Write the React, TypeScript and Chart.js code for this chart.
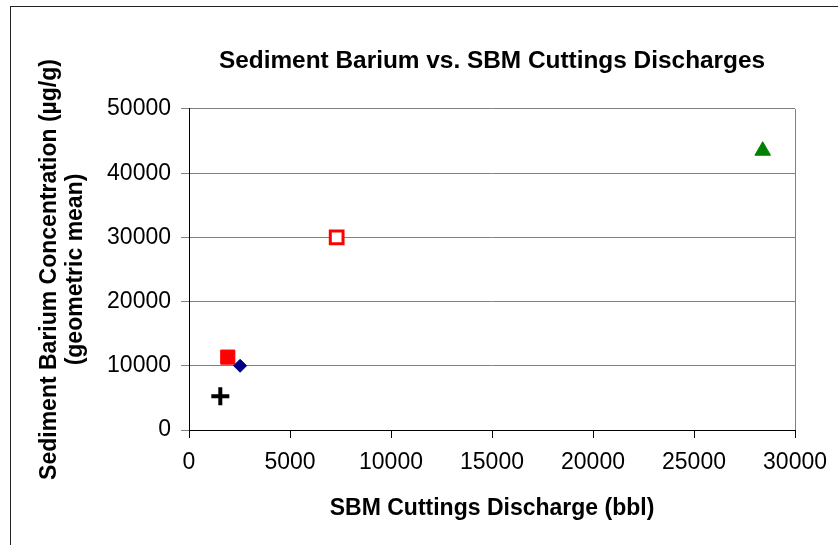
import React, { useEffect, useRef } from "react";
import { Chart, registerables } from "chart.js";

Chart.register(...registerables);

// ---- data ----
const seriesNames = ["Site A", "Site B", "Site C", "Site D", "Site E"];
const xValues = [1550, 1920, 2530, 7310, 28400]; // SBM cuttings discharge (bbl)
const yValues = [5250, 11350, 10000, 30000, 43500]; // sediment barium (µg/g)
const xTicks = [0, 5000, 10000, 15000, 20000, 25000, 30000];
const yTicks = [0, 10000, 20000, 30000, 40000, 50000];

const titleText = "Sediment Barium vs. SBM Cuttings Discharges";
const xTitle = "SBM Cuttings Discharge (bbl)";
const yTitle = ["Sediment Barium Concentration (µg/g)", "(geometric mean)"];

const FONT = "'Liberation Sans', Arial, Helvetica, sans-serif";

// marker styles per series (index matches the data arrays)
const markerStyles = [
  { pointStyle: "cross", radius: 9, bg: "#000000", border: "#000000", bw: 4, order: 3 },
  { pointStyle: "rect", radius: 10, bg: "#ff0000", border: "#ff0000", bw: 1, order: 2 },
  { pointStyle: "rectRot", radius: 6.5, bg: "#000080", border: "#000080", bw: 1, order: 1 },
  { pointStyle: "rect", radius: 9, bg: "#ffffff", border: "#ff0000", bw: 3, order: 4 },
  { pointStyle: "triangle", radius: 9, bg: "#008000", border: "#008000", bw: 1, order: 5 },
];

export default function App() {
  const ref = useRef<HTMLCanvasElement>(null);

  useEffect(() => {
    if (!ref.current) return;
    const datasets = seriesNames.map((name, i) => ({
      label: name,
      data: [{ x: xValues[i], y: yValues[i] }],
      pointStyle: markerStyles[i].pointStyle as any,
      pointRadius: markerStyles[i].radius,
      pointBackgroundColor: markerStyles[i].bg,
      pointBorderColor: markerStyles[i].border,
      pointBorderWidth: markerStyles[i].bw,
      showLine: false,
      order: markerStyles[i].order,
    }));

    const chart = new Chart(ref.current, {
      type: "scatter",
      data: { datasets },
      options: {
        animation: false,
        responsive: false,
        maintainAspectRatio: false,
        layout: { padding: { left: 0, right: 40, top: 47, bottom: 0 } },
        plugins: {
          legend: { display: false },
          tooltip: { enabled: false },
          title: {
            display: true,
            fullSize: false,
            text: titleText,
            color: "#000",
            font: { family: FONT, size: 24.4, weight: "bold", lineHeight: 1.2 },
            padding: { top: 0, bottom: 32.7 },
          },
        },
        scales: {
          x: {
            type: "linear",
            min: xTicks[0],
            max: xTicks[xTicks.length - 1],
            afterBuildTicks: (s: any) => {
              s.ticks = xTicks.map((v) => ({ value: v }));
            },
            afterFit: (s: any) => {
              s.height = 115;
            },
            ticks: {
              color: "#000",
              font: { family: FONT, size: 23 },
              padding: 11,
              maxRotation: 0,
              autoSkip: false,
              callback: (v: any) => String(v),
            },
            grid: {
              drawOnChartArea: true,
              drawTicks: true,
              tickLength: 8,
              color: (ctx: any) =>
                ctx.tick && ctx.tick.value === xTicks[xTicks.length - 1] ? "#808080" : "rgba(0,0,0,0)",
              tickColor: "#000",
              lineWidth: 1,
            },
            border: { display: true, color: "#000", width: 1 },
            title: {
              display: true,
              text: xTitle,
              color: "#000",
              font: { family: FONT, size: 23, weight: "bold", lineHeight: 1.2 },
              padding: { top: 0, bottom: 23 },
            },
          },
          y: {
            type: "linear",
            min: yTicks[0],
            max: yTicks[yTicks.length - 1],
            afterBuildTicks: (s: any) => {
              s.ticks = yTicks.map((v) => ({ value: v }));
            },
            afterFit: (s: any) => {
              s.width = 189;
            },
            ticks: {
              color: "#000",
              font: { family: FONT, size: 23 },
              padding: 10,
              autoSkip: false,
              callback: (v: any) => String(v),
            },
            grid: {
              drawTicks: true,
              tickLength: 8,
              color: (ctx: any) => (ctx.tick && ctx.tick.value === 0 ? "#000" : "#808080"),
              tickColor: "#808080",
              lineWidth: 1,
            },
            border: { display: true, color: "#000", width: 1 },
            title: {
              display: true,
              text: yTitle,
              color: "#000",
              font: { family: FONT, size: 23, weight: "bold", lineHeight: 1.15 },
              padding: { top: 36, bottom: 0 },
            },
          },
        },
      },
    });
    return () => chart.destroy();
  }, []);

  return (
    <div
      style={{
        position: "absolute",
        left: 0,
        top: 0,
        width: 838,
        height: 545,
        overflow: "hidden",
        background: "#fff",
      }}
    >
      <div
        style={{
          position: "absolute",
          left: 10,
          top: 6,
          width: 900,
          height: 600,
          border: "1px solid #222",
          boxSizing: "border-box",
        }}
      />
      <canvas
        ref={ref}
        width={838}
        height={545}
        style={{ position: "absolute", left: 0, top: 0, width: 838, height: 545, display: "block" }}
      />
    </div>
  );
}
